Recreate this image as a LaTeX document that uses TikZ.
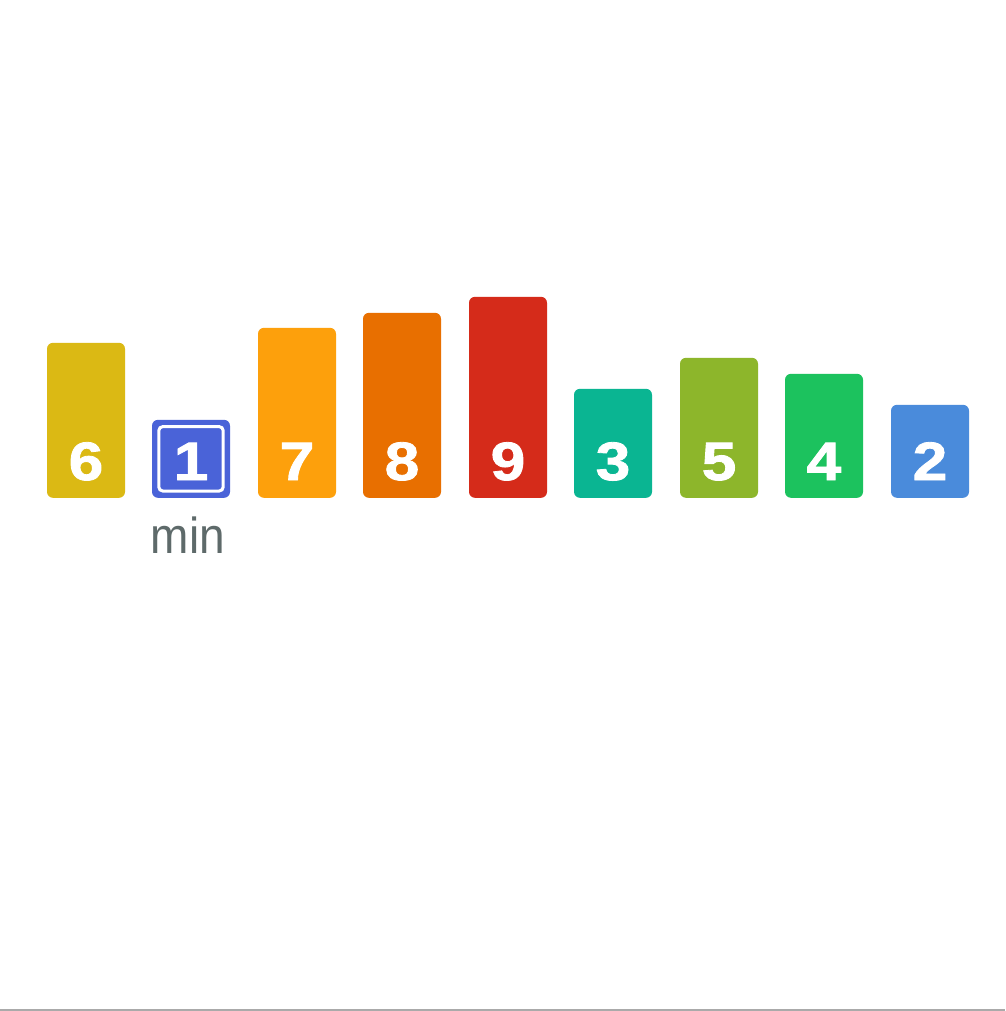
\documentclass[tikz,border=0pt]{standalone}
\usepackage{fontspec}
\setmainfont{Liberation Sans}
\newfontfamily\digitfont[BoldFeatures={FakeBold=1.5}]{Liberation Sans}
\usetikzlibrary{positioning}
\definecolor{cSix}{HTML}{DBB914}
\definecolor{cOne}{HTML}{4A63D8}
\definecolor{cSeven}{HTML}{FDA00C}
\definecolor{cEight}{HTML}{E86F00}
\definecolor{cNine}{HTML}{D52B1A}
\definecolor{cThree}{HTML}{0AB592}
\definecolor{cFive}{HTML}{8DB62B}
\definecolor{cFour}{HTML}{1CC25E}
\definecolor{cTwo}{HTML}{4A8BDB}
\definecolor{minGray}{HTML}{5E6A6A}
\definecolor{edgeGray}{HTML}{AAAAAA}
\begin{document}
\begin{tikzpicture}[x=1pt,y=-1pt,
  bar/.style={rounded corners=6pt, minimum width=78pt, inner sep=0pt, anchor=south},
  num/.style={text=white, anchor=base, inner sep=0pt, xscale=1.15, font=\digitfont\bfseries\fontsize{54}{54}\selectfont},
  lbl/.style={text=minGray, anchor=base, inner sep=0pt, yscale=1.1, font=\fontsize{46}{46}\selectfont}]
\useasboundingbox[fill=white] (0,0) rectangle (1005,1011);
% bars, bottom edge at y=498
\node[bar, fill=cSix,   minimum height=155pt] (b6) at (86,498)  {};
\node[bar, fill=cOne,   minimum height=78pt]  (b1) at (191,498) {};
\node[bar, fill=cSeven, minimum height=170pt] (b7) at (297,498) {};
\node[bar, fill=cEight, minimum height=185pt] (b8) at (402,498) {};
\node[bar, fill=cNine,  minimum height=201pt] (b9) at (508,498) {};
\node[bar, fill=cThree, minimum height=109pt] (b3) at (613,498) {};
\node[bar, fill=cFive,  minimum height=140pt] (b5) at (719,498) {};
\node[bar, fill=cFour,  minimum height=124pt] (b4) at (824,498) {};
\node[bar, fill=cTwo,   minimum height=93pt]  (b2) at (930,498) {};
% values
\node[num] (n6) at ([yshift=18pt]b6.south) {6};
\node[num] (n1) at ([yshift=18pt]b1.south) {1};
\node[num] (n7) at ([yshift=18pt]b7.south) {7};
\node[num] (n8) at ([yshift=18pt]b8.south) {8};
\node[num] (n9) at ([yshift=18pt]b9.south) {9};
\node[num] (n3) at ([yshift=18pt]b3.south) {3};
\node[num] (n5) at ([yshift=18pt]b5.south) {5};
\node[num] (n4) at ([yshift=18pt]b4.south) {4};
\node[num] (n2) at ([yshift=18pt]b2.south) {2};
% current minimum
\draw[white, line width=3pt, rounded corners=4pt]
  ([shift={(7pt,-7pt)}]b1.north west) rectangle ([shift={(-7pt,7pt)}]b1.south east);
\node[lbl] (minlbl) at ([xshift=-3pt,yshift=-55pt]b1.south) {min};
\draw[edgeGray, line width=2pt] (0,1010) -- (1005,1010);
\end{tikzpicture}
\end{document}
